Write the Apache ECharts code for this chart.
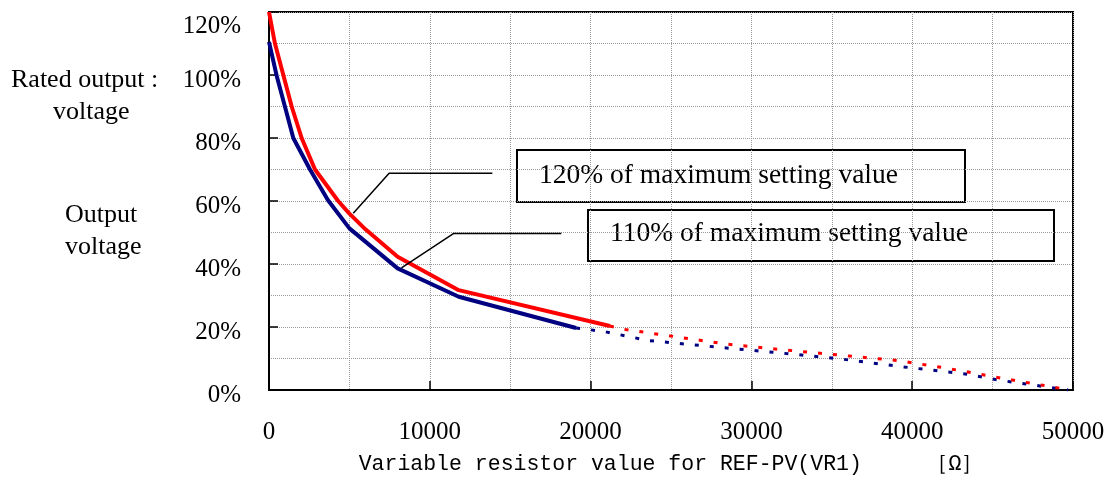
<!DOCTYPE html>
<html>
<head>
<meta charset="utf-8">
<script src="https://cdn.jsdelivr.net/npm/echarts@6/dist/echarts.min.js"></script>
<style>
  html, body { margin: 0; padding: 0; background: #fff; }
</style>
</head>
<body>
<div id="vrChart" style="width:1114px;height:478px"></div>
<script>
// 120% curve (red), solid part and dotted tail
var r120 = [0, 370, 890, 1410, 2030, 2860, 4300, 5000, 6000, 8000, 11800, 21200];
var v120 = [120, 110, 100, 90, 80, 70, 60, 56, 51, 42.3, 31.7, 20.3];
var r120Tail = [21200, 21900, 28560, 32530, 36070, 39190, 42170, 45720, 49600];
var v120Tail = [20.3, 19.4, 14.5, 12.5, 10.8, 9.3, 6.9, 3.6, 0.2];

// 110% curve (navy), solid part and dotted tail
var r110 = [0, 480, 990, 1510, 2550, 3660, 5000, 8000, 11800, 19100];
var v110 = [110.5, 99.7, 90, 80, 70, 60.3, 51.3, 38.6, 29.6, 19.7];
var r110Tail = [19100, 20900, 23600, 28130, 32530, 35650, 39340, 43300, 45300, 49700];
var v110Tail = [19.7, 18.5, 15.7, 13.5, 11.4, 9.8, 7.4, 5.1, 3.2, 0];

// leader lines from the curves to the label boxes
var lead120R = [5240, 7470, 13890];
var lead120V = [56.1, 68.8, 68.8];
var lead110R = [8240, 11490, 18180];
var lead110V = [38.8, 49.7, 49.7];

var label120 = '120% of maximum setting value';
var label110 = '110% of maximum setting value';

function pairs(xs, ys) {
  return xs.map(function (x, i) { return [x, ys[i]]; });
}

var myChart = echarts.init(document.getElementById('vrChart'));

var serif = 'Liberation Serif';
var gridLine = { show: true, lineStyle: { color: '#9a9a9a', type: 'dotted', width: 1 } };

function curve(name, data, color, dotted) {
  return {
    name: name,
    type: 'line',
    data: data,
    symbol: 'none',
    z: dotted ? 3 : 4,
    lineStyle: dotted
      ? { color: color, width: 3, type: [4, 11] }
      : { color: color, width: 4 }
  };
}

function leader(data) {
  return {
    type: 'line',
    data: data,
    symbol: 'none',
    z: 5,
    lineStyle: { color: '#000', width: 1.5 }
  };
}

var option = {
  animation: false,
  backgroundColor: '#fff',
  grid: {
    left: 269, right: 41, top: 12, bottom: 88,
    show: true, borderColor: '#000', borderWidth: 2,
    outerBoundsMode: 'none'
  },
  xAxis: {
    type: 'value',
    min: 0, max: 50000, interval: 10000,
    axisLine: { lineStyle: { color: '#000', width: 2 } },
    axisTick: { inside: true, length: 9, lineStyle: { color: '#000', width: 1.5 } },
    axisLabel: {
      margin: 30, color: '#000', fontFamily: serif, fontSize: 25,
      formatter: function (v) { return String(v); }
    },
    splitLine: gridLine,
    minorTick: { show: false, splitNumber: 2 },
    minorSplitLine: gridLine,
    name: 'Variable resistor value for REF-PV(VR1)     ［Ω］',
    nameLocation: 'middle',
    nameGap: 63,
    nameTextStyle: { color: '#000', fontFamily: 'Liberation Mono', fontSize: 21.5 }
  },
  yAxis: {
    type: 'value',
    min: 0, max: 120, interval: 20,
    axisLine: { show: true, lineStyle: { color: '#000', width: 2 } },
    axisTick: { show: true, inside: true, length: 9, lineStyle: { color: '#000', width: 1.5 } },
    axisLabel: {
      margin: 28, color: '#000', fontFamily: serif, fontSize: 25,
      formatter: function (v) {
        return v === 120 ? '{t|' + v + '%}' : '{n|' + v + '%}';
      },
      rich: {
        n: { fontFamily: serif, fontSize: 25, color: '#000', padding: [10, 0, 0, 0] },
        t: { fontFamily: serif, fontSize: 25, color: '#000', padding: [28, 0, 0, 0] }
      }
    },
    splitLine: gridLine,
    minorTick: { show: false, splitNumber: 2 },
    minorSplitLine: gridLine
  },
  graphic: [
    { type: 'text', left: 11, top: 67, style: { text: 'Rated output :', font: '26px "Liberation Serif"', fill: '#000' } },
    { type: 'text', left: 53, top: 99, style: { text: 'voltage', font: '26px "Liberation Serif"', fill: '#000' } },
    { type: 'text', left: 65, top: 202, style: { text: 'Output', font: '26px "Liberation Serif"', fill: '#000' } },
    { type: 'text', left: 65, top: 234, style: { text: 'voltage', font: '26px "Liberation Serif"', fill: '#000' } },
    {
      type: 'group', left: 516, top: 149,
      children: [
        { type: 'rect', shape: { x: 0, y: 0, width: 448, height: 52 }, style: { fill: '#fff', stroke: '#000', lineWidth: 2 } },
        { type: 'text', x: 22, y: 26, style: { text: label120, font: '27.5px "Liberation Serif"', fill: '#000', verticalAlign: 'middle' } }
      ]
    },
    {
      type: 'group', left: 587, top: 209,
      children: [
        { type: 'rect', shape: { x: 0, y: 0, width: 466, height: 51 }, style: { fill: '#fff', stroke: '#000', lineWidth: 2 } },
        { type: 'text', x: 22, y: 24, style: { text: label110, font: '27.5px "Liberation Serif"', fill: '#000', verticalAlign: 'middle' } }
      ]
    }
  ],
  series: [
    curve('110%', pairs(r110, v110), '#000080', false),
    curve('110% tail', pairs(r110Tail, v110Tail), '#000080', true),
    curve('120%', pairs(r120, v120), '#ff0000', false),
    curve('120% tail', pairs(r120Tail, v120Tail), '#ff0000', true),
    leader(pairs(lead120R, lead120V)),
    leader(pairs(lead110R, lead110V))
  ]
};

myChart.setOption(option);
</script>
</body>
</html>
